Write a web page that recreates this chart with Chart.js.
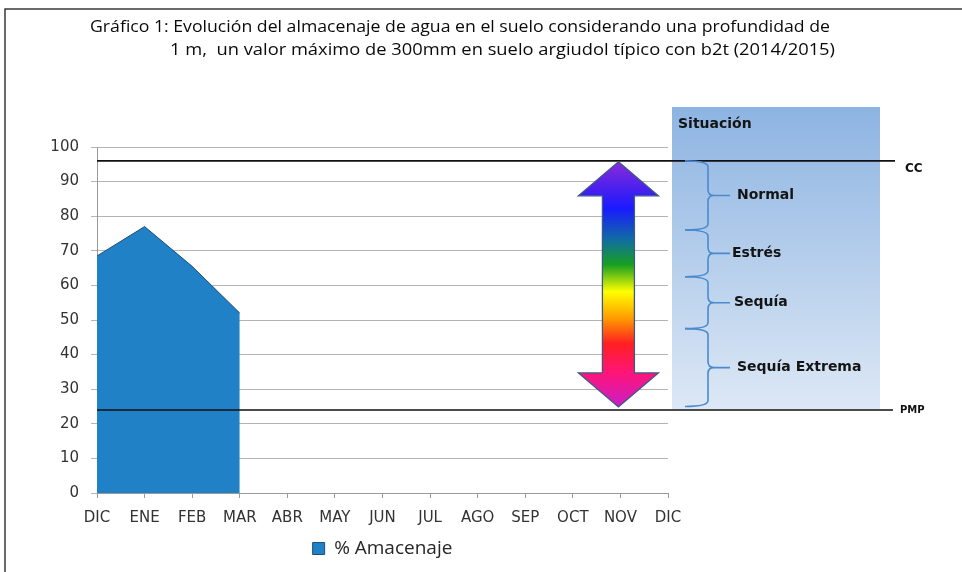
<!DOCTYPE html>
<html>
<head>
<meta charset="utf-8">
<script src="https://cdn.jsdelivr.net/npm/chart.js@4.4.1/dist/chart.umd.min.js"></script>
<style>
  html, body { margin: 0; padding: 0; background: #ffffff; }
  #wrap { width: 962px; height: 572px; position: relative; }
</style>
</head>
<body>
<div id="wrap"><canvas id="c" width="962" height="572"></canvas></div>
<script>
// ---- data ----
const months = ['DIC','ENE','FEB','MAR','ABR','MAY','JUN','JUL','AGO','SEP','OCT','NOV','DIC'];
const storagePct = [68.5, 77, 65.5, 52, null, null, null, null, null, null, null, null, null];
const seriesName = '% Amacenaje';
const titleLines = [
  'Gráfico 1: Evolución del almacenaje de agua en el suelo considerando una profundidad de',
  '1 m,  un valor máximo de 300mm en suelo argiudol típico con b2t (2014/2015)'
];
const ccValue = 96;   // capacidad de campo
const pmpValue = 24;  // punto de marchitez permanente
const stateLabels = ['Normal', 'Estrés', 'Sequía', 'Sequía Extrema'];
const stateBounds = [96, 76, 62.5, 47.5, 25];
const boxTitle = 'Situación';

const overlay = {
  id: 'overlay',
  beforeDraw(chart) {
    const ctx = chart.ctx;
    ctx.save();
    ctx.fillStyle = '#ffffff';
    ctx.fillRect(0, 0, chart.width, chart.height);
    // frame
    ctx.strokeStyle = '#3a3a3a';
    ctx.lineWidth = 1.5;
    ctx.beginPath();
    ctx.moveTo(5, 572); ctx.lineTo(5, 9); ctx.lineTo(962, 9);
    ctx.stroke();
    // title
    ctx.fillStyle = '#0a0a0a';
    ctx.font = '500 17px "Open Sans"';
    ctx.textBaseline = 'middle';
    ctx.textAlign = 'left';
    const tpos = [[90, 27, 740], [170, 50, 665]];
    titleLines.forEach((t, i) => {
      const [x, y, w] = tpos[i];
      const m = ctx.measureText(t).width;
      ctx.save();
      ctx.translate(x, y);
      ctx.scale(w / m, 1);
      ctx.fillText(t, 0, 0);
      ctx.restore();
    });
    ctx.restore();
  },
  afterDatasetsDraw(chart) {
    const ctx = chart.ctx;
    const ca = chart.chartArea;
    const ys = chart.scales.y, xs = chart.scales.x;
    const yCC = ys.getPixelForValue(ccValue);
    const yPMP = ys.getPixelForValue(pmpValue);
    ctx.save();

    // situation box
    const bx = ca.right + 4, bw = 208, btop = ca.top - 40, bbot = yPMP - 1;
    const g = ctx.createLinearGradient(0, btop, 0, bbot);
    g.addColorStop(0, '#8db4e2');
    g.addColorStop(1, '#dde8f5');
    ctx.fillStyle = g;
    ctx.fillRect(bx, btop, bw, bbot - btop);
    ctx.fillStyle = '#141414';
    ctx.font = 'bold 14px "DejaVu Sans"';
    ctx.textBaseline = 'middle';
    ctx.textAlign = 'left';
    ctx.fillText(boxTitle, bx + 6, btop + 17);

    // CC and PMP lines
    ctx.strokeStyle = '#111111';
    ctx.lineWidth = 1.6;
    ctx.beginPath();
    ctx.moveTo(ca.left, yCC); ctx.lineTo(895, yCC);
    ctx.moveTo(ca.left, yPMP); ctx.lineTo(893, yPMP);
    ctx.stroke();
    ctx.fillStyle = '#111111';
    ctx.font = 'bold 12px "DejaVu Sans"';
    ctx.fillText('CC', 905, yCC + 8);
    ctx.font = 'bold 10px "DejaVu Sans"';
    ctx.fillText('PMP', 900, yPMP);

    // braces
    const xL = bx + 13, xS = bx + 36, xM = bx + 58;
    ctx.strokeStyle = '#4a8ad0';
    ctx.lineWidth = 1.6;
    for (let i = 0; i < stateLabels.length; i++) {
      const y1 = ys.getPixelForValue(stateBounds[i]);
      const y2 = ys.getPixelForValue(stateBounds[i + 1]);
      const ym = (y1 + y2) / 2;
      const r = 6;
      ctx.beginPath();
      ctx.moveTo(xL, y1);
      ctx.quadraticCurveTo(xS, y1, xS, y1 + r);
      ctx.lineTo(xS, ym - r);
      ctx.quadraticCurveTo(xS, ym, xS + 6, ym);
      ctx.quadraticCurveTo(xS, ym, xS, ym + r);
      ctx.lineTo(xS, y2 - r);
      ctx.quadraticCurveTo(xS, y2, xL, y2);
      ctx.moveTo(xS + 6, ym);
      ctx.lineTo(xM, ym);
      ctx.stroke();
      ctx.fillStyle = '#141414';
      ctx.font = 'bold 14px "DejaVu Sans"';
      const lx = [65, 60, 62, 65][i];
      ctx.fillText(stateLabels[i], bx + lx, ym);
    }

    // rainbow double arrow
    const cx = xs.getPixelForValue(11) - 2;
    const top = yCC + 1, bot = yPMP - 3;
    const hh = 40, sh = 16, hl = 34;
    const ag = ctx.createLinearGradient(0, top, 0, bot);
    ag.addColorStop(0.00, '#8a2ad8');
    ag.addColorStop(0.19, '#1a1aff');
    ag.addColorStop(0.32, '#106ea0');
    ag.addColorStop(0.42, '#18a020');
    ag.addColorStop(0.53, '#ffff00');
    ag.addColorStop(0.64, '#ff9a00');
    ag.addColorStop(0.74, '#ff2020');
    ag.addColorStop(0.86, '#ff1478');
    ag.addColorStop(1.00, '#c81ec8');
    ctx.beginPath();
    ctx.moveTo(cx, top);
    ctx.lineTo(cx + hh, top + hl);
    ctx.lineTo(cx + sh, top + hl);
    ctx.lineTo(cx + sh, bot - hl);
    ctx.lineTo(cx + hh, bot - hl);
    ctx.lineTo(cx, bot);
    ctx.lineTo(cx - hh, bot - hl);
    ctx.lineTo(cx - sh, bot - hl);
    ctx.lineTo(cx - sh, top + hl);
    ctx.lineTo(cx - hh, top + hl);
    ctx.closePath();
    ctx.fillStyle = ag;
    ctx.fill();
    ctx.strokeStyle = '#3c5a82';
    ctx.lineWidth = 1.3;
    ctx.stroke();
    ctx.restore();
  }
};

new Chart(document.getElementById('c'), {
  type: 'line',
  data: {
    labels: months,
    datasets: [{
      label: seriesName,
      data: storagePct,
      fill: 'origin',
      backgroundColor: '#2181c6',
      borderColor: '#1f4e79',
      borderWidth: 1,
      pointRadius: 0,
      tension: 0,
      spanGaps: false
    }]
  },
  options: {
    responsive: false,
    animation: false,
    layout: { padding: { left: 0, right: 294, top: 147, bottom: 4 } },
    plugins: {
      title: { display: false },
      tooltip: { enabled: false },
      legend: {
        position: 'bottom',
        fullSize: false,
        labels: {
          boxWidth: 12, boxHeight: 12, padding: 8,
          color: '#262626',
          font: { family: '"Open Sans"', size: 19 }
        }
      }
    },
    scales: {
      x: {
        offset: false,
        grid: { display: true, drawOnChartArea: false, drawTicks: true, tickLength: 5, color: '#9a9a9a' },
        border: { display: true, color: '#9a9a9a', width: 1 },
        ticks: { color: '#333333', padding: 11, maxRotation: 0, autoSkip: false, font: { family: '"DejaVu Sans"', size: 15 } },
        afterFit(s) { s.height = 38; }
      },
      y: {
        min: 0, max: 100,
        grid: { color: '#b4b4b4', lineWidth: 1, tickLength: 6 },
        border: { display: true, color: '#9a9a9a', width: 1 },
        ticks: { stepSize: 10, color: '#333333', padding: 12, font: { family: '"DejaVu Sans"', size: 15 } },
        afterFit(s) { s.width = 97; }
      }
    }
  },
  plugins: [overlay]
});
</script>
</body>
</html>
